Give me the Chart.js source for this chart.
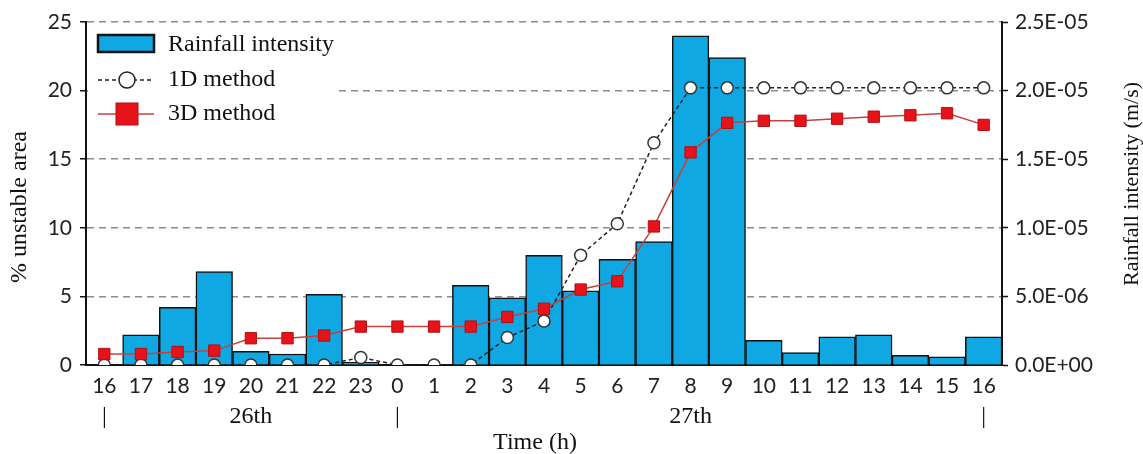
<!DOCTYPE html>
<html>
<head>
<meta charset="utf-8">
<script src="https://cdn.jsdelivr.net/npm/chart.js@4.4.1/dist/chart.umd.min.js"></script>
<style>
  body { margin: 0; background: #fff; }
</style>
</head>
<body>
<canvas id="rainChart" width="1143" height="454"></canvas>
<script>
// hourly steps from 16:00 on the 26th to 16:00 on the 27th
const hours = ['16','17','18','19','20','21','22','23','0','1','2','3','4','5','6','7','8','9','10','11','12','13','14','15','16'];
// rainfall intensity (m/s), right axis
const rainfall = [0, 2.2e-6, 4.2e-6, 6.8e-6, 1.0e-6, 0.8e-6, 5.15e-6, 0.2e-6, 0, 0,
                  5.8e-6, 4.9e-6, 8.0e-6, 5.4e-6, 7.7e-6, 9.0e-6, 2.4e-5, 2.24e-5,
                  1.8e-6, 0.9e-6, 2.05e-6, 2.2e-6, 0.7e-6, 0.6e-6, 2.05e-6];
// % unstable area, left axis
const method1D = [0, 0, 0, 0, 0, 0, 0, 0.55, 0, 0, 0, 2.0, 3.2, 8.0, 10.3, 16.2,
                  20.2, 20.2, 20.2, 20.2, 20.2, 20.2, 20.2, 20.2, 20.2];
const method3D = [0.8, 0.8, 0.95, 1.05, 1.95, 1.95, 2.15, 2.8, 2.8, 2.8, 2.8, 3.5, 4.1,
                  5.5, 6.1, 10.1, 15.5, 17.65, 17.8, 17.8, 17.95, 18.1, 18.2, 18.35, 17.5];
// day captions under the hour ticks (category index -> text)
const dayCaptions = [[4, '26th'], [16, '27th']];
const dayMarks = [0, 8, 24];

const sansFont = "Lato, 'Liberation Sans', sans-serif";
const serifFont = "'Liberation Serif', 'Times New Roman', serif";
const barBlue = '#10a8e3';
const red3D = '#e8121a';

function sciLabel(v) {
  if (v === 0) return '0.0E+00';
  const parts = v.toExponential(1).split('e');
  const n = parseInt(parts[1], 10);
  return parts[0] + 'E' + (n < 0 ? '-' : '+') + String(Math.abs(n)).padStart(2, '0');
}

const decorations = {
  id: 'decorations',
  beforeDatasetsDraw(chart) {
    // legend sits on a white patch that hides the grid line behind it
    const ctx = chart.ctx;
    ctx.save();
    ctx.fillStyle = '#fff';
    ctx.fillRect(88, 28, 248, 108);
    ctx.restore();
  },
  afterDraw(chart) {
    const ctx = chart.ctx;
    const ds = chart.data.datasets;
    const xs = chart.scales.x;
    ctx.save();
    ctx.textBaseline = 'middle';
    ctx.font = '24px ' + serifFont;

    // legend
    ctx.fillStyle = barBlue;
    ctx.fillRect(98, 35, 56, 17);
    ctx.strokeStyle = '#111';
    ctx.lineWidth = 2.5;
    ctx.strokeRect(98, 35, 56, 17);

    ctx.lineWidth = 1.5;
    ctx.setLineDash([4, 3]);
    ctx.strokeStyle = '#222';
    ctx.beginPath(); ctx.moveTo(98, 80); ctx.lineTo(154, 80); ctx.stroke();
    ctx.setLineDash([]);
    ctx.fillStyle = '#fff';
    ctx.beginPath(); ctx.arc(127, 80, 8, 0, Math.PI * 2); ctx.fill(); ctx.stroke();

    ctx.strokeStyle = '#c8403a';
    ctx.beginPath(); ctx.moveTo(98, 114); ctx.lineTo(154, 114); ctx.stroke();
    ctx.fillStyle = red3D;
    ctx.fillRect(116, 103, 22, 22);
    ctx.strokeStyle = '#b01010';
    ctx.lineWidth = 1;
    ctx.strokeRect(116, 103, 22, 22);

    ctx.fillStyle = '#111';
    ctx.textAlign = 'left';
    ctx.fillText(ds[0].label, 168, 45);
    ctx.fillText(ds[1].label, 168, 80);
    ctx.fillText(ds[2].label, 168, 114);

    // day captions and separators
    ctx.textAlign = 'center';
    dayCaptions.forEach(([i, t]) => ctx.fillText(t, xs.getPixelForValue(i), 417));
    dayMarks.forEach(i => ctx.fillText('|', xs.getPixelForValue(i), 417));

    // axis titles
    ctx.fillText('Time (h)', 535, 443);
    ctx.save();
    ctx.translate(20, 207);
    ctx.rotate(-Math.PI / 2);
    ctx.fillText('% unstable area', 0, 0);
    ctx.restore();
    ctx.save();
    ctx.font = '22px ' + serifFont;
    ctx.translate(1132, 184);
    ctx.rotate(-Math.PI / 2);
    ctx.fillText('Rainfall intensity (m/s)', 0, 0);
    ctx.restore();
    ctx.restore();
  }
};

new Chart(document.getElementById('rainChart'), {
  type: 'bar',
  data: {
    labels: hours,
    datasets: [
      {
        label: 'Rainfall intensity',
        data: rainfall,
        yAxisID: 'y1',
        backgroundColor: barBlue,
        borderColor: '#111',
        borderWidth: 1.5,
        barPercentage: 1,
        categoryPercentage: 1,
        order: 3
      },
      {
        type: 'line',
        label: '1D method',
        data: method1D,
        yAxisID: 'y',
        borderColor: '#222',
        borderWidth: 1.5,
        borderDash: [4, 3],
        pointStyle: 'circle',
        pointRadius: 6,
        pointBorderWidth: 1.5,
        pointBorderColor: '#333',
        pointBackgroundColor: '#fff',
        order: 2
      },
      {
        type: 'line',
        label: '3D method',
        data: method3D,
        yAxisID: 'y',
        borderColor: '#c8403a',
        borderWidth: 1.5,
        pointStyle: 'rect',
        pointRadius: 8,
        pointBorderWidth: 1,
        pointBorderColor: '#b01010',
        pointBackgroundColor: red3D,
        order: 1
      }
    ]
  },
  options: {
    responsive: false,
    animation: false,
    layout: { padding: { top: 22, left: 0, right: 0, bottom: 0 } },
    plugins: { legend: { display: false }, tooltip: { enabled: false } },
    scales: {
      x: {
        grid: { display: false, drawTicks: false },
        border: { color: '#111', width: 2 },
        ticks: { font: { family: sansFont, size: 21 }, color: '#222', padding: 9, maxRotation: 0, autoSkip: false },
        afterFit(s) { s.height = 89; }
      },
      y: {
        position: 'left',
        min: 0,
        max: 25,
        ticks: { stepSize: 5, padding: 8, font: { family: sansFont, size: 21 }, color: '#222' },
        grid: { color: '#8c8c8c', lineWidth: 1.5, tickColor: '#111', tickLength: 6, tickWidth: 1.5 },
        border: { color: '#111', width: 2, dash: [7, 5] },
        afterFit(s) { s.width = 86; }
      },
      y1: {
        position: 'right',
        min: 0,
        max: 2.5e-5,
        ticks: { stepSize: 5e-6, padding: 7, callback: v => sciLabel(v), font: { family: sansFont, size: 21 }, color: '#222' },
        grid: { drawOnChartArea: false, tickColor: '#111', tickLength: 6, tickWidth: 1.5 },
        border: { color: '#111', width: 2 },
        afterFit(s) { s.width = 141; }
      }
    }
  },
  plugins: [decorations]
});
</script>
</body>
</html>
